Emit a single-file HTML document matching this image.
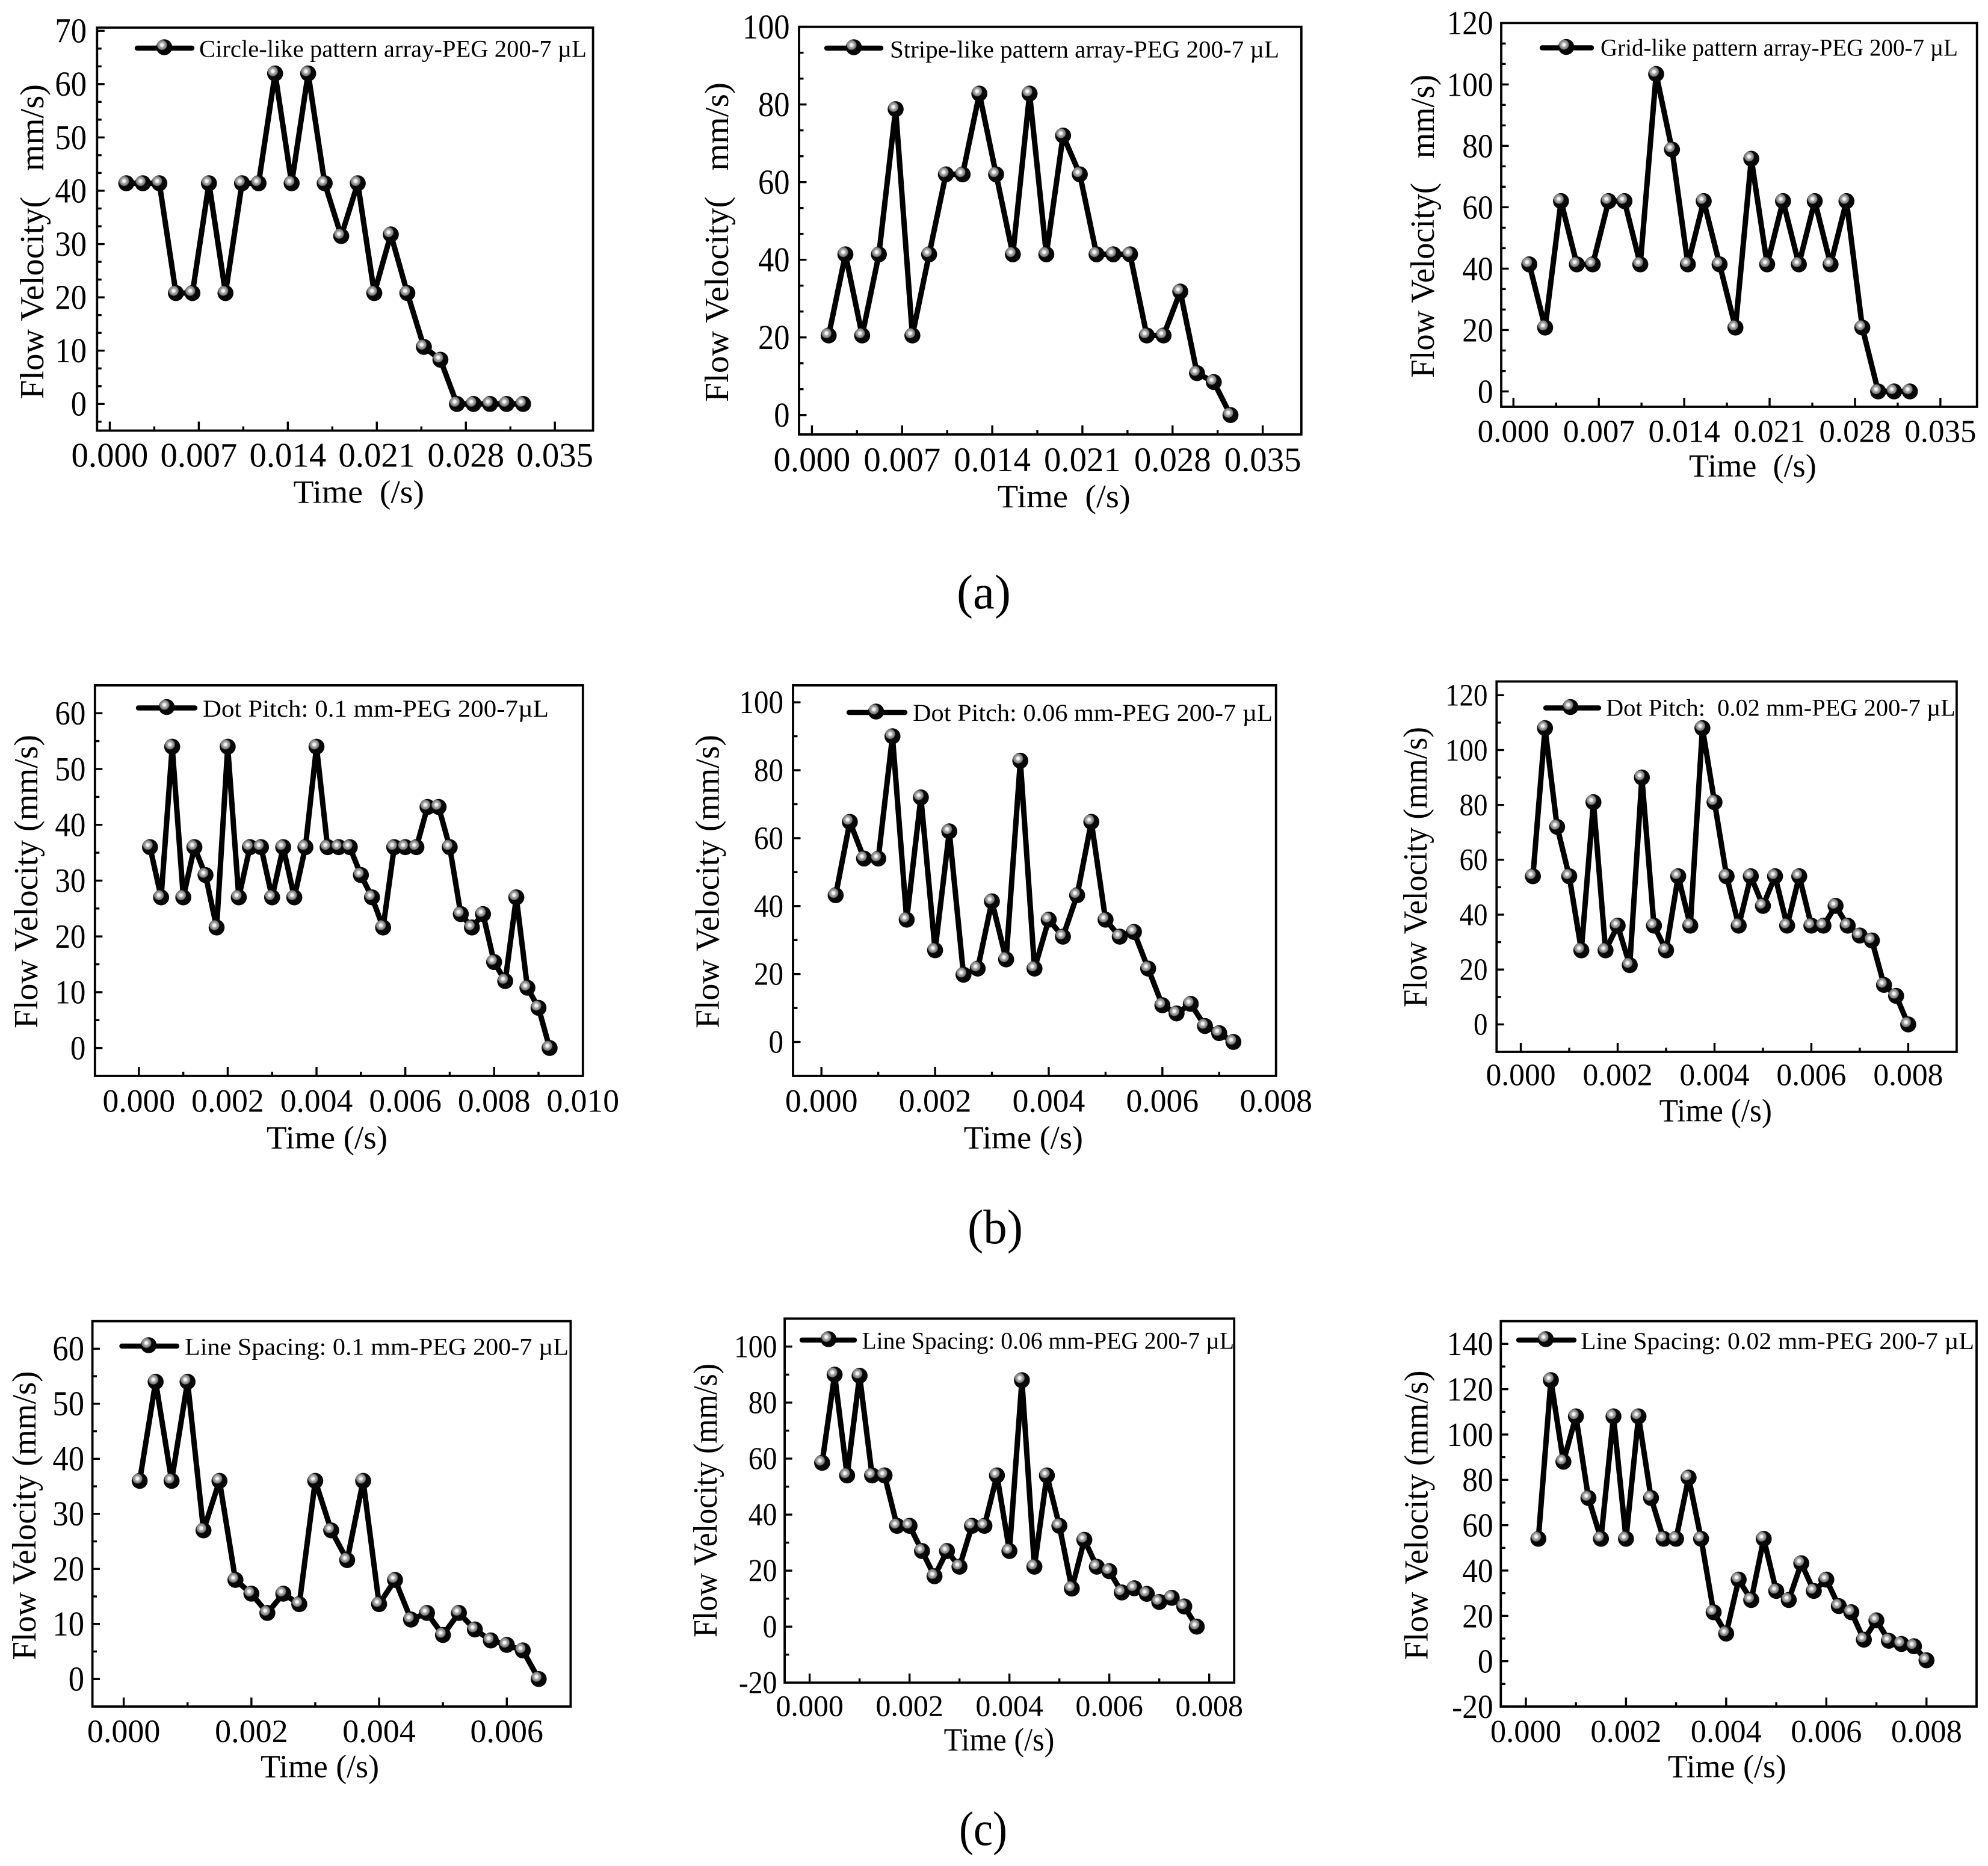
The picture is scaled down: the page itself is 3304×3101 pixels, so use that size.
<!DOCTYPE html>
<html lang="en">
<head>
<meta charset="utf-8">
<title>Flow velocity versus time for pattern arrays</title>
<style>
html,body{margin:0;padding:0;background:#fff;}
svg{display:block;}
text{font-family:"Liberation Serif",serif;fill:#000;white-space:pre;}
</style>
</head>
<body>
<svg id="figure" xmlns="http://www.w3.org/2000/svg" width="3304" height="3101" viewBox="0 0 3304 3101">
<defs>
<radialGradient id="sphere" cx="0.36" cy="0.36" r="0.33" fx="0.36" fy="0.36">
<stop offset="0" stop-color="#ffffff"/>
<stop offset="0.3" stop-color="#e8e8e8"/>
<stop offset="0.48" stop-color="#a8a8a8"/>
<stop offset="0.85" stop-color="#7c7c7c"/>
<stop offset="1" stop-color="#080808"/>
</radialGradient>
</defs>
<rect width="3304" height="3101" fill="#fff"/>
<text x="1590" y="1011" font-size="80" textLength="90" lengthAdjust="spacingAndGlyphs">(a)</text>
<text x="1608" y="2066" font-size="80" textLength="92" lengthAdjust="spacingAndGlyphs">(b)</text>
<text x="1594" y="3066" font-size="80" textLength="80" lengthAdjust="spacingAndGlyphs">(c)</text>
</svg>
<script>
/* ---------- chart data ---------- */
const circleTime = [0.0013,0.0026,0.0039,0.0052,0.0065,0.0078,0.0091,0.0104,0.0117,0.0130,0.0143,0.0156,0.0169,0.0182,0.0195,0.0208,0.0221,0.0234,0.0247,0.0260,0.0273,0.0286,0.0299,0.0312,0.0325];
const circleVelocity = [41.4,41.4,41.4,20.8,20.8,41.4,20.8,41.4,41.4,62,41.4,62,41.4,31.5,41.4,20.8,31.8,20.8,10.7,8.3,0,0,0,0,0];
const stripeTime = [0.0013,0.0026,0.0039,0.0052,0.0065,0.0078,0.0091,0.0104,0.0117,0.0130,0.0143,0.0156,0.0169,0.0182,0.0195,0.0208,0.0221,0.0234,0.0247,0.0260,0.0273,0.0286,0.0299,0.0312,0.0325];
const stripeVelocity = [20.5,41.4,20.5,41.4,78.8,20.5,41.4,62,62,82.8,62,41.4,82.8,41.4,72,62,41.4,41.4,41.4,20.5,20.5,31.8,10.8,8.5,0];
const gridTime = [0.0013,0.0026,0.0039,0.0052,0.0065,0.0078,0.0091,0.0104,0.0117,0.0130,0.0143,0.0156,0.0169,0.0182,0.0195,0.0208,0.0221,0.0234,0.0247,0.0260,0.0273,0.0286,0.0299,0.0312,0.0325];
const gridVelocity = [41.4,20.8,62,41.4,41.4,62,62,41.4,103.4,78.8,41.4,62,41.4,20.8,75.8,41.4,62,41.4,62,41.4,62,20.8,0,0,0];
const dot01Time = [0.00025,0.0005,0.00075,0.001,0.00125,0.0015,0.00175,0.002,0.00225,0.0025,0.00275,0.003,0.00325,0.0035,0.00375,0.004,0.00425,0.0045,0.00475,0.005,0.00525,0.0055,0.00575,0.006,0.00625,0.0065,0.00675,0.007,0.00725,0.0075,0.00775,0.008,0.00825,0.0085,0.00875,0.009,0.00925];
const dot01Velocity = [36,27,54,27,36,31,21.6,54,27,36,36,27,36,27,36,54,36,36,36,31,27,21.6,36,36,36,43.2,43.2,36,24,21.6,24,15.4,12,27,10.8,7.2,0];
const dot006Time = [0.00025,0.0005,0.00075,0.001,0.00125,0.0015,0.00175,0.002,0.00225,0.0025,0.00275,0.003,0.00325,0.0035,0.00375,0.004,0.00425,0.0045,0.00475,0.005,0.00525,0.0055,0.00575,0.006,0.00625,0.0065,0.00675,0.007,0.00725];
const dot006Velocity = [43.2,64.8,54,54,90,36,72,27,62,19.8,21.6,41.4,24.3,82.8,21.6,36,31,43.2,64.8,36,31,32.4,21.6,10.8,8.4,11.2,4.7,2.6,0];
const dot002Time = [0.00025,0.0005,0.00075,0.001,0.00125,0.0015,0.00175,0.002,0.00225,0.0025,0.00275,0.003,0.00325,0.0035,0.00375,0.004,0.00425,0.0045,0.00475,0.005,0.00525,0.0055,0.00575,0.006,0.00625,0.0065,0.00675,0.007,0.00725,0.0075,0.00775,0.008];
const dot002Velocity = [54,108,72,54,27,81,27,36,21.6,90,36,27,54,36,108,81,54,36,54,43.2,54,36,54,36,36,43.2,36,32.4,30.6,14.4,10.4,0];
const line01Time = [0.00025,0.0005,0.00075,0.001,0.00125,0.0015,0.00175,0.002,0.00225,0.0025,0.00275,0.003,0.00325,0.0035,0.00375,0.004,0.00425,0.0045,0.00475,0.005,0.00525,0.0055,0.00575,0.006,0.00625,0.0065];
const line01Velocity = [36,54,36,54,27,36,18,15.5,12,15.5,13.6,36,27,21.6,36,13.6,18,10.8,12,8,12,9,7,6.2,5.2,0];
const line006Time = [0.00025,0.0005,0.00075,0.001,0.00125,0.0015,0.00175,0.002,0.00225,0.0025,0.00275,0.003,0.00325,0.0035,0.00375,0.004,0.00425,0.0045,0.00475,0.005,0.00525,0.0055,0.00575,0.006,0.00625,0.0065,0.00675,0.007,0.00725,0.0075,0.00775];
const line006Velocity = [58.5,90,54,89.6,54,54,36,36,27,18,27,21.4,36,36,54,27,88,21.4,54,36,13.6,31,21.4,19.8,12.2,13.7,11.7,8.8,10.3,7.2,0];
const line002Time = [0.00025,0.0005,0.00075,0.001,0.00125,0.0015,0.00175,0.002,0.00225,0.0025,0.00275,0.003,0.00325,0.0035,0.00375,0.004,0.00425,0.0045,0.00475,0.005,0.00525,0.0055,0.00575,0.006,0.00625,0.0065,0.00675,0.007,0.00725,0.0075,0.00775,0.008];
const line002Velocity = [54,124,88,108,72,54,108,54,108,72,54,54,81,54,21.6,12.2,36,27,54,31,27,43.2,31,36,24.3,21.6,9.5,18,9,7.6,6.6,0.4];

/* ---------- tick labels ---------- */
const xTicks035 = ['0.000','0.007','0.014','0.021','0.028','0.035'];
const xTicks010 = ['0.000','0.002','0.004','0.006','0.008','0.010'];
const xTicks008 = ['0.000','0.002','0.004','0.006','0.008'];
const xTicks006 = ['0.000','0.002','0.004','0.006'];
const yTicks70 = ['0','10','20','30','40','50','60','70'];
const yTicks100 = ['0','20','40','60','80','100'];
const yTicks120 = ['0','20','40','60','80','100','120'];
const yTicks60 = ['0','10','20','30','40','50','60'];
const yTicksNeg100 = ['-20','0','20','40','60','80','100'];
const yTicksNeg140 = ['-20','0','20','40','60','80','100','120','140'];

/* ---------- panel layout ---------- */
const panels = [
 {id:'circle-like',time:circleTime,velocity:circleVelocity,xLabels:xTicks035,yLabels:yTicks70,
  box:[161.3,985.6,45.9,715.6],xDom:[-0.001,0.038],yDom:[-5,70.6],yMinor:2,
  xFs:56.8,yFs:52.6,xBase:775.5,yRight:144,
  xTitle:'Time  (/s)',xT:[487.5,705,835.5],yTitle:'Flow Velocity(   mm/s)',yT:[72,663,140],
  legend:'Circle-like pattern array-PEG 200-7 µL',leg:[224,323,273,80,331,975,94.4]},
 {id:'stripe-like',time:stripeTime,velocity:stripeVelocity,xLabels:xTicks035,yLabels:yTicks100,
  box:[1328,2162.8,44.6,722],xDom:[-0.001,0.038],yDom:[-5,100],yMinor:2,
  xFs:56.8,yFs:52.6,xBase:783,yRight:1312.6,
  xTitle:'Time  (/s)',xT:[1657.7,1878.7,843],yTitle:'Flow Velocity(   mm/s)',yT:[1210,668,137],
  legend:'Stripe-like pattern array-PEG 200-7 µL',leg:[1370,1468,1419,80,1479,2126,95.7]},
 {id:'grid-like',time:gridTime,velocity:gridVelocity,xLabels:xTicks035,yLabels:yTicks120,
  box:[2495,3285.7,38.3,676],xDom:[-0.001,0.038],yDom:[-5,120],yMinor:2,
  xFs:53,yFs:51.4,xBase:734.7,yRight:2481.6,
  xTitle:'Time  (/s)',xT:[2807,3018.8,792],yTitle:'Flow Velocity(   mm/s)',yT:[2383,628,124],
  legend:'Grid-like pattern array-PEG 200-7 µL',leg:[2559,2649,2603,79.5,2660,3254,92.5]},
 {id:'dot-pitch-0-1',time:dot01Time,velocity:dot01Velocity,xLabels:xTicks010,yLabels:yTicks60,
  box:[157.8,968.8,1138.9,1788],xDom:[-0.00099,0.010],yDom:[-5,65],yMinor:1,
  xFs:53.6,yFs:51,xBase:1847.4,yRight:142.4,
  xTitle:'Time (/s)',xT:[443,644,1908.7],yTitle:'Flow Velocity (mm/s)',yT:[62,1709,1221],
  legend:'Dot Pitch: 0.1 mm-PEG 200-7µL',leg:[226,328,277,1176.5,337,912,1191.2]},
 {id:'dot-pitch-0-06',time:dot006Time,velocity:dot006Velocity,xLabels:xTicks008,yLabels:yTicks100,
  box:[1318,2120.7,1138.9,1788],xDom:[-0.0005,0.008],yDom:[-10,105],yMinor:1,
  xFs:53.6,yFs:49,xBase:1847.4,yRight:1302,
  xTitle:'Time (/s)',xT:[1601.6,1800,1908.7],yTitle:'Flow Velocity (mm/s)',yT:[1194.7,1709,1221],
  legend:'Dot Pitch: 0.06 mm-PEG 200-7 µL',leg:[1407,1508,1456,1184,1517,2115,1198.2]},
 {id:'dot-pitch-0-02',time:dot002Time,velocity:dot002Velocity,xLabels:xTicks008,yLabels:yTicks120,
  box:[2487.3,3251.9,1132.5,1748],xDom:[-0.0005,0.009],yDom:[-10,125],yMinor:1,
  xFs:51.6,yFs:47,xBase:1803.4,yRight:2472.5,
  xTitle:'Time (/s)',xT:[2757.6,2945,1863.4],yTitle:'Flow Velocity (mm/s)',yT:[2371,1674,1208],
  legend:'Dot Pitch:  0.02 mm-PEG 200-7 µL',leg:[2565,2661,2610,1176.5,2669,3250,1189.3]},
 {id:'line-spacing-0-1',time:line01Time,velocity:line01Velocity,xLabels:xTicks006,yLabels:yTicks60,
  box:[153.6,948.4,2195.6,2836],xDom:[-0.00049,0.007],yDom:[-5,65],yMinor:1,
  xFs:54,yFs:52.6,xBase:2894.8,yRight:140,
  xTitle:'Time (/s)',xT:[433,630,2953.6],yTitle:'Flow Velocity (mm/s)',yT:[59,2758.6,2278.6],
  legend:'Line Spacing: 0.1 mm-PEG 200-7 µL',leg:[198.5,298,247,2237,307,945,2251.4]},
 {id:'line-spacing-0-06',time:line006Time,velocity:line006Velocity,xLabels:xTicks008,yLabels:yTicksNeg100,
  box:[1304.1,2051.2,2191.3,2796.3],xDom:[-0.0005,0.0085],yDom:[-20,110],yMinor:1,
  xFs:50,yFs:47.7,xBase:2851.4,yRight:1291.5,
  xTitle:'Time (/s)',xT:[1568.6,1752.4,2909],yTitle:'Flow Velocity (mm/s)',yT:[1191,2721,2266],
  legend:'Line Spacing: 0.06 mm-PEG 200-7 µL',leg:[1329,1424,1377,2227,1432.5,2051,2241.5]},
 {id:'line-spacing-0-02',time:line002Time,velocity:line002Velocity,xLabels:xTicks008,yLabels:yTicksNeg140,
  box:[2494.3,3285,2195.6,2836],xDom:[-0.0005,0.009],yDom:[-20,150],yMinor:1,
  xFs:52.5,yFs:51.4,xBase:2894.8,yRight:2481.6,
  xTitle:'Time (/s)',xT:[2771.7,2968.9,2953.6],yTitle:'Flow Velocity (mm/s)',yT:[2372.5,2758.6,2277.4],
  legend:'Line Spacing: 0.02 mm-PEG 200-7 µL',leg:[2520,2620,2569,2227,2627,3281,2242]}
];

/* ---------- drawing ---------- */
const NS = 'http://www.w3.org/2000/svg';
const figure = document.getElementById('figure');
function make(tag, parent, attrs) {
  const el = document.createElementNS(NS, tag);
  for (const k in attrs) el.setAttribute(k, attrs[k]);
  parent.appendChild(el);
  return el;
}
function scaleLinear(dom, range) {
  return function (v) {
    return range[0] + (v - dom[0]) / (dom[1] - dom[0]) * (range[1] - range[0]);
  };
}
const TICK_W = 3.4;
function labelWidth(s, fs) {
  let w = 0;
  for (const ch of s) w += (ch === '-' ? 0.333 : 0.5) * fs;
  return w;
}
function drawPanel(p) {
  const [left, right, top, bottom] = p.box;
  const sx = scaleLinear(p.xDom, [left, right]);
  const sy = scaleLinear(p.yDom, [bottom, top]);

  const g = make('g', figure, {});
  
  

  const frame = make('rect', g, {x: left, y: top, width: right - left, height: bottom - top, fill: 'none', stroke: '#000', 'stroke-width': 3.8});
  
  

  /* x axis ticks and labels */
  const xVals = p.xLabels.map(Number);
  const xStep = xVals[1] - xVals[0];
  xVals.forEach(function (v, i) {
    const x = sx(v);
    const tick = make('line', g, {x1: x, x2: x, y1: bottom, y2: bottom - 15, stroke: '#000', 'stroke-width': TICK_W});
    
    
    const mv = v + xStep / 2;
    if (mv < p.xDom[1]) {
      const mx = sx(mv);
      const minor = make('line', g, {x1: mx, x2: mx, y1: bottom, y2: bottom - 7, stroke: '#000', 'stroke-width': TICK_W});
      
      
    }
    const label = make('text', g, {x: x, y: p.xBase, 'font-size': p.xFs, 'text-anchor': 'middle'});
    label.textContent = p.xLabels[i];
    
    
  });

  /* y axis ticks and labels */
  const yVals = p.yLabels.map(Number);
  const yStep = yVals[1] - yVals[0];
  const yDrawFs = p.yFs * 1.1;
  yVals.forEach(function (v, i) {
    const y = sy(v);
    const tick = make('line', g, {x1: left, x2: left + 12.5, y1: y, y2: y, stroke: '#000', 'stroke-width': TICK_W});
    
    
    const w = labelWidth(p.yLabels[i], p.yFs);
    const label = make('text', g, {x: p.yRight - w, y: y + yDrawFs * 0.335, 'font-size': yDrawFs, textLength: w, lengthAdjust: 'spacingAndGlyphs'});
    label.textContent = p.yLabels[i];
    
    
  });
  const minorStep = yStep / (p.yMinor + 1);
  for (let k = -30; k < 120; k++) {
    const mv = yVals[0] + k * minorStep;
    if (k % (p.yMinor + 1) === 0 && mv >= yVals[0] && mv <= yVals[yVals.length - 1]) continue;
    if (mv <= p.yDom[0] + 0.01 || mv >= p.yDom[1] - 0.01) continue;
    const my = sy(mv);
    const minor = make('line', g, {x1: left, x2: left + 7.5, y1: my, y2: my, stroke: '#000', 'stroke-width': TICK_W});
    
    
  }

  /* axis titles */
  const xt = make('text', g, {x: p.xT[0], y: p.xT[2], 'font-size': 54, textLength: p.xT[1] - p.xT[0], lengthAdjust: 'spacingAndGlyphs'});
  xt.textContent = p.xTitle;
  
  
  const yt = make('text', g, {transform: 'translate(' + p.yT[0] + ',' + p.yT[1] + ') rotate(-90)', x: 0, y: 0, 'font-size': 56, textLength: p.yT[1] - p.yT[2], lengthAdjust: 'spacingAndGlyphs'});
  yt.textContent = p.yTitle;
  
  

  /* series */
  const pts = p.time.map(function (t, i) { return sx(t) + ',' + sy(p.velocity[i]); }).join(' ');
  const poly = make('polyline', g, {points: pts, fill: 'none', stroke: '#000', 'stroke-width': 9, 'stroke-linejoin': 'round'});
  
  
  p.time.forEach(function (t, i) {
    const dot = make('circle', g, {cx: sx(t), cy: sy(p.velocity[i]), r: 13.3, fill: 'url(#sphere)'});
    
    
  });

  /* legend */
  const L = p.leg;
  const legend = make('g', g, {});
  
  
  const lline = make('line', legend, {x1: L[0] + 4, x2: L[1] - 4, y1: L[3], y2: L[3], stroke: '#000', 'stroke-width': 8.4, 'stroke-linecap': 'round'});
  
  
  const ldot = make('circle', legend, {cx: L[2], cy: L[3] - 1.5, r: 13.3, fill: 'url(#sphere)'});
  
  
  const ltext = make('text', legend, {x: L[4], y: L[6], 'font-size': 40, textLength: L[5] - L[4], lengthAdjust: 'spacingAndGlyphs'});
  ltext.textContent = p.legend;
  
  
}
panels.forEach(drawPanel);
</script>
</body>
</html>
